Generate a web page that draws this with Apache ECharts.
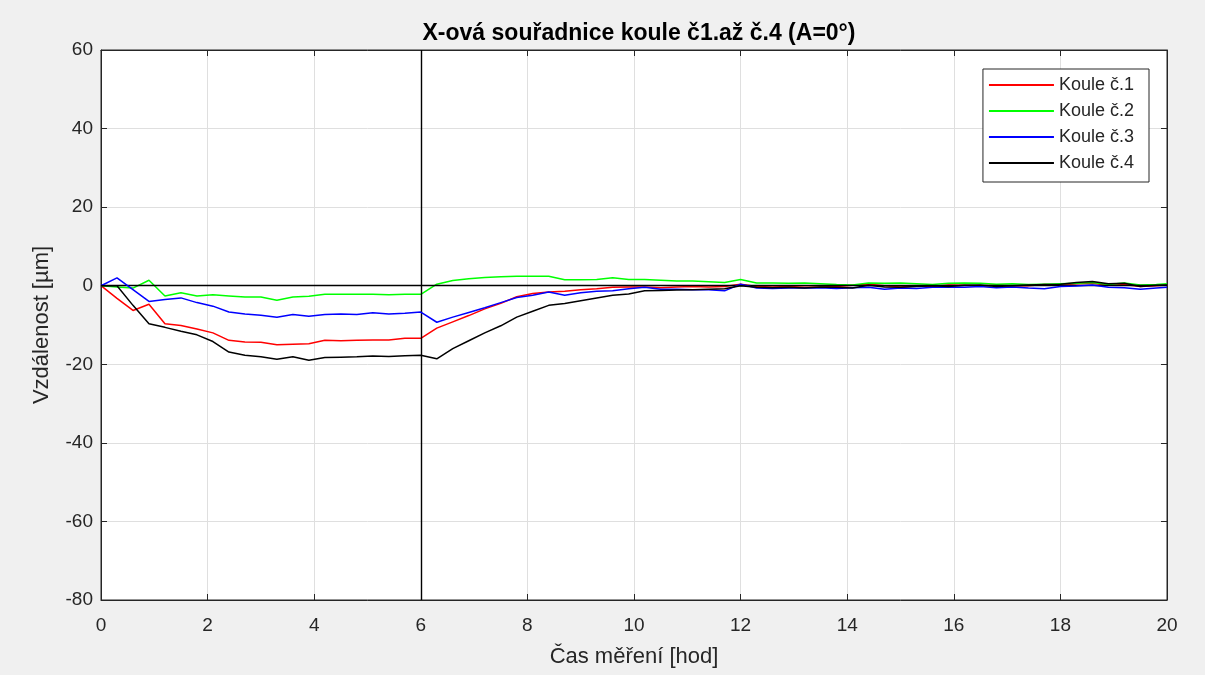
<!DOCTYPE html>
<html>
<head>
<meta charset="utf-8">
<title>X-ová souřadnice koule</title>
<script src="https://cdn.jsdelivr.net/npm/echarts@6/dist/echarts.min.js"></script>
<style>
  html, body { margin: 0; padding: 0; background: #f0f0f0; }
  #chart { width: 1205px; height: 675px; }
</style>
</head>
<body>
<div id="chart"></div>
<script>
  // cas mereni [hod]
  var casHod = [
    0, 0.3, 0.6, 0.9, 1.2, 1.5, 1.8, 2.1, 2.4, 2.7,
    3.0, 3.3, 3.6, 3.9, 4.2, 4.5, 4.8, 5.1, 5.4, 5.7,
    6.0, 6.3, 6.6, 6.9, 7.2, 7.5, 7.8, 8.1, 8.4, 8.7,
    9.0, 9.3, 9.6, 9.9, 10.2, 10.5, 10.8, 11.1, 11.4, 11.7,
    12.0, 12.3, 12.6, 12.9, 13.2, 13.5, 13.8, 14.1, 14.4, 14.7,
    15.0, 15.3, 15.6, 15.9, 16.2, 16.5, 16.8, 17.1, 17.4, 17.7,
    18.0, 18.3, 18.6, 18.9, 19.2, 19.5, 19.8, 20.0
  ]

  var koule1 = [
    0, -3.2, -6.3, -4.7, -9.7, -10.1, -11.0, -12.0, -13.9, -14.3,
    -14.4, -15.0, -14.9, -14.8, -13.9, -14.0, -13.9, -13.8, -13.8, -13.4,
    -13.4, -10.8, -9.2, -7.6, -5.9, -4.5, -2.8, -2.0, -1.6, -1.4,
    -1.0, -0.8, -0.4, -0.3, -0.3, -0.5, -0.3, -0.2, -0.3, -0.2,
    0.4, -0.2, -0.3, -0.2, -0.4, -0.3, -0.2, 0.1, 0.4, 0.0,
    -0.3, -0.1, -0.2, 0.2, 0.1, -0.1, 0.2, -0.1, 0.0, 0.3,
    0.2, 0.5, 0.6, 0.1, 0.3, -0.2, 0.0, 0.2
  ]

  var koule2 = [
    0, -0.3, -0.6, 1.4, -2.6, -1.8, -2.6, -2.3, -2.6, -2.9,
    -2.9, -3.7, -2.9, -2.7, -2.2, -2.2, -2.2, -2.2, -2.3, -2.2,
    -2.2, 0.4, 1.3, 1.8, 2.1, 2.3, 2.4, 2.4, 2.4, 1.5,
    1.5, 1.6, 2.0, 1.6, 1.6, 1.4, 1.2, 1.2, 1.0, 0.8,
    1.6, 0.7, 0.7, 0.6, 0.7, 0.5, 0.3, 0.2, 0.7, 0.6,
    0.7, 0.5, 0.3, 0.6, 0.7, 0.6, 0.4, 0.5, 0.3, 0.4,
    0.5, 0.6, 0.8, 0.3, 0.7, 0.2, 0.3, 0.5
  ]

  var koule3 = [
    0, 2.0, -1.0, -4.0, -3.5, -3.1, -4.3, -5.2, -6.7, -7.2,
    -7.5, -8.0, -7.3, -7.8, -7.3, -7.2, -7.3, -6.9, -7.2, -7.0,
    -6.7, -9.3, -8.0, -6.8, -5.6, -4.3, -3.0, -2.4, -1.6, -2.4,
    -1.8, -1.4, -1.3, -0.8, -0.4, -0.9, -0.9, -1.0, -1.0, -1.3,
    0.4, -0.6, -0.7, -0.6, -0.6, -0.5, -0.7, -0.5, -0.4, -0.9,
    -0.6, -0.7, -0.4, -0.3, -0.4, -0.2, -0.5, -0.3, -0.6, -0.8,
    -0.2, -0.1, 0.2, -0.4, -0.5, -0.9, -0.6, -0.4
  ]

  var koule4 = [
    0, 0, -5.0, -9.7, -10.6, -11.6, -12.5, -14.2, -16.9, -17.7,
    -18.1, -18.7, -18.1, -19.0, -18.3, -18.2, -18.1, -17.9, -18.0, -17.8,
    -17.7, -18.6, -16.0, -14.0, -12.0, -10.2, -8.0, -6.5, -5.0, -4.5,
    -3.8, -3.1, -2.4, -2.1, -1.3, -1.2, -1.1, -1.0, -0.9, -0.8,
    0.0, -0.4, -0.5, -0.4, -0.6, -0.3, -0.4, -0.6, 0.1, -0.3,
    -0.4, -0.2, 0.0, -0.2, 0.1, 0.2, -0.2, 0.0, 0.2, 0.3,
    0.4, 0.8, 1.1, 0.5, 0.6, -0.2, 0.1, 0.2
  ]

  var nazvy = ['Koule č.1', 'Koule č.2', 'Koule č.3', 'Koule č.4']
  var barvy = ['#ff0000', '#00ff00', '#0000ff', '#000000']
  var xTicks = [0, 2, 4, 6, 8, 10, 12, 14, 16, 18, 20]
  var yTicks = [-80, -60, -40, -20, 0, 20, 40, 60]

  var textColor = '#262626'
  var font = 'Liberation Sans, Arial, Helvetica, sans-serif'

  function pary(hodnoty) {
    return casHod.map(function (t, i) {
      return [t, hodnoty[i]]
    })
  }

  function serie(idx, hodnoty) {
    return {
      name: nazvy[idx],
      type: 'line',
      data: pary(hodnoty),
      symbol: 'none',
      smooth: false,
      animation: false,
      lineStyle: { color: barvy[idx], width: 1.5 },
      itemStyle: { color: barvy[idx] },
      z: 3 + idx
    }
  }

  var series = [
    serie(0, koule1),
    serie(1, koule2),
    serie(2, koule3),
    serie(3, koule4)
  ]
  // reference lines at 6 h and 0 um
  series[0].markLine = {
    silent: true,
    symbol: 'none',
    animation: false,
    label: { show: false },
    lineStyle: { color: '#000000', type: 'solid', width: 1.4 },
    data: [{ xAxis: 6 }, { yAxis: 0 }]
  }

  function boxAxis(extra) {
    var a = {
      type: 'value',
      axisLine: { show: true, onZero: false, lineStyle: { color: textColor } },
      axisTick: { show: true, inside: true, length: 6, lineStyle: { color: textColor } }
    }
    for (var k in extra) a[k] = extra[k]
    return a
  }

  var chart = echarts.init(document.getElementById('chart'), null, { renderer: 'canvas' })

  chart.setOption({
    backgroundColor: '#f0f0f0',
    animation: false,
    textStyle: { fontFamily: font },
    title: {
      text: 'X-ová souřadnice koule č1.až č.4 (A=0°)',
      left: 634,
      textAlign: 'center',
      top: 17,
      textStyle: {
        fontFamily: font,
        fontSize: 23,
        fontWeight: 'bold',
        color: '#000000'
      }
    },
    legend: {
      data: nazvy,
      orient: 'vertical',
      right: 56,
      top: 69,
      icon: 'rect',
      itemWidth: 65,
      itemHeight: 2,
      itemGap: 8,
      padding: [7, 15, 10, 6],
      backgroundColor: '#ffffff',
      borderColor: textColor,
      borderWidth: 1,
      borderRadius: 0,
      textStyle: { fontFamily: font, fontSize: 18, color: textColor }
    },
    grid: {
      left: 101,
      right: 38,
      top: 50,
      bottom: 75,
      show: true,
      backgroundColor: '#ffffff',
      borderColor: textColor,
      borderWidth: 1
    },
    xAxis: [
      boxAxis({
        min: 0,
        max: 20,
        interval: 2,
        name: 'Čas měření [hod]',
        nameLocation: 'middle',
        nameGap: 46,
        nameTextStyle: { fontFamily: font, fontSize: 22, color: textColor },
        axisLabel: {
          fontFamily: font,
          fontSize: 19,
          color: textColor,
          margin: 16,
          customValues: xTicks
        },
        splitLine: { show: true, lineStyle: { color: '#dfdfdf', width: 1 } }
      }),
      boxAxis({
        position: 'top',
        min: 0,
        max: 20,
        interval: 2,
        axisLabel: { show: false },
        splitLine: { show: false }
      })
    ],
    yAxis: [
      boxAxis({
        min: -80,
        max: 60,
        interval: 20,
        name: 'Vzdálenost [µm]',
        nameLocation: 'middle',
        nameGap: 48,
        nameTextStyle: { fontFamily: font, fontSize: 22, color: textColor },
        axisLabel: {
          fontFamily: font,
          fontSize: 19,
          color: textColor,
          margin: 8,
          customValues: yTicks
        },
        splitLine: { show: true, lineStyle: { color: '#dfdfdf', width: 1 } }
      }),
      boxAxis({
        position: 'right',
        min: -80,
        max: 60,
        interval: 20,
        axisLabel: { show: false },
        splitLine: { show: false }
      })
    ],
    series: series
  })
</script>
</body>
</html>
